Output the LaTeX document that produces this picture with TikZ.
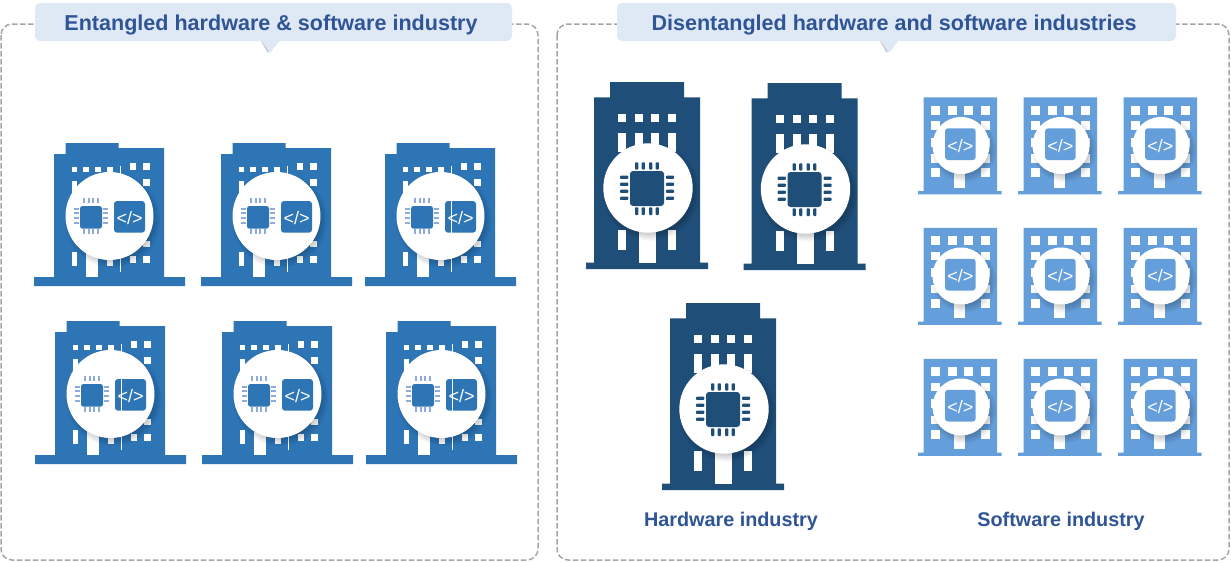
\documentclass[tikz,border=0pt]{standalone}
\usepackage{fontspec}
\setmainfont{Liberation Sans}
\definecolor{entblue}{HTML}{2E75B6}
\definecolor{darkblue}{HTML}{1F4E79}
\definecolor{lightblue}{HTML}{659FDB}
\definecolor{pinblue}{HTML}{8FAADC}
\definecolor{titleblue}{HTML}{2F5597}
\definecolor{titlebg}{HTML}{DEE9F5}
\definecolor{framegray}{HTML}{A6A6A6}
\tikzset{
  frameline/.style={draw=framegray,line width=1.5pt,dash pattern=on 5.5pt off 2.5pt,rounded corners=11pt},
  titlebox/.style={fill=titlebg,rounded corners=5pt},
  titletext/.style={text=titleblue,font=\bfseries\fontsize{21.55}{24}\selectfont,inner sep=0pt},
  codetext/.style={text=white,font=\fontsize{18}{20}\selectfont,inner sep=0pt},
}
\newcommand{\win}[4]{\fill[white] (#1,#2) rectangle (#3,#4);}
\newcommand{\softdisc}[3]{%
  \foreach \k in {0,1,...,7}{
    \fill[black,opacity=0.028] (#1+3,#2+4) circle ({#3+4-\k*1.1});
  }
  \fill[white] (#1,#2) circle (#3);}
% entangled building; #1,#2 shift, #3 name, #4 = 1 line on top
\newcommand{\entbuilding}[4]{%
\begin{scope}[shift={(#1,#2)}]
  \fill[entblue] (54,154) -- (65.7,154) -- (65.7,143) -- (118.7,143) -- (118.7,148) -- (164,148) -- (164,277) -- (185,277) -- (185,286) -- (34,286) -- (34,277) -- (54,277) -- cycle;
  \win{71.7}{166.7}{77.3}{172}\win{83.3}{166.7}{89.3}{172}\win{95.3}{166.7}{101}{172}\win{107.3}{166.7}{112.7}{172}
  \win{130}{163}{136}{170}\win{143}{163}{150}{170}
  \win{71.7}{181}{77.3}{200}\win{143}{179}{150}{186}
  \win{143}{240.7}{150}{247}
  \win{71.7}{251.7}{77.3}{266}\win{86}{240}{98.3}{277}\win{107.3}{255}{112.7}{266}
  \win{130}{255.7}{136}{262.7}\win{143}{255.7}{150}{262.7}
  \draw[white,line width=0.7pt] (120.3,166) -- (120.3,271.6);
  \softdisc{109.5}{216}{44}
  \foreach \a in {84.3,89,93.3,97.7}{
    \fill[pinblue] (\a-1,198.3) rectangle (\a+1,202.7);
    \fill[pinblue] (\a-1,229.2) rectangle (\a+1,233.5);
  }
  \foreach \a in {208.7,213.3,218,222.7}{
    \fill[pinblue] (74.3,\a-1) rectangle (79,\a+1);
    \fill[pinblue] (103.3,\a-1) rectangle (108.3,\a+1);
  }
  \fill[entblue,rounded corners=2.5pt] (80,206) rectangle (102,228.7);
  \fill[entblue,rounded corners=3pt] (114,201) rectangle (145,232.7);
  \node[codetext] (#3) at (129.7,217.6) {</>};
  \ifnum#4=1 \draw[white,line width=0.7pt] (120.3,201) -- (120.3,232.7); \fi
\end{scope}}
% hardware building
\newcommand{\hwbuilding}[3]{%
\begin{scope}[shift={(#1,#2)}]
  \fill[darkblue] (594,97.3) -- (610,97.3) -- (610,82) -- (684,82) -- (684,97.3) -- (700,97.3) -- (700,262.7) -- (708,262.7) -- (708,269) -- (586,269) -- (586,262.7) -- (594,262.7) -- cycle;
  \foreach \a in {618.3,635,651.3,668}{
    \win{\a}{114}{\a+8}{121.7}
    \win{\a}{133.3}{\a+8}{152}
  }
  \win{618.3}{230.3}{626.3}{250}\win{668}{230.3}{676}{250}
  \win{639}{225}{656}{262.7}
  \softdisc{648}{188}{44.7}
  \foreach \a in {636.7,643.3,650.7,657.3}{
    \fill[darkblue,rounded corners=0.8pt] (\a-1.6,162.3) rectangle (\a+1.6,169.5);
    \fill[darkblue,rounded corners=0.8pt] (\a-1.6,207.3) rectangle (\a+1.6,215);
  }
  \foreach \a in {177.3,184.3,191.3,198.3}{
    \fill[darkblue,rounded corners=0.8pt] (620,\a-1.6) rectangle (628.3,\a+1.6);
    \fill[darkblue,rounded corners=0.8pt] (666,\a-1.6) rectangle (674,\a+1.6);
  }
  \fill[darkblue,rounded corners=3pt] (630,171) rectangle (664,206);
  \coordinate (#3) at (648,188);
\end{scope}}
% software building
\newcommand{\swbuilding}[3]{%
\begin{scope}[shift={(#1,#2)}]
  \fill[lightblue] (923.7,97.3) -- (997,97.3) -- (997,191) -- (1001.7,191) -- (1001.7,194.3) -- (918,194.3) -- (918,191) -- (923.7,191) -- cycle;
  \foreach \a in {931,947.5,964.3,980.7}{
    \foreach \b in {105.7,121,137.7,154}{
      \win{\a}{\b}{\a+9}{\b+8.8}
    }
  }
  \win{931}{168.3}{940}{177.3}\win{980.7}{168.3}{990}{177.3}
  \win{954}{165}{965}{187.7}
  \softdisc{961}{145.5}{28.5}
  \fill[lightblue,rounded corners=3pt] (945,128.3) rectangle (975.7,160);
  \node[codetext] (#3) at (960.4,145.6) {</>};
\end{scope}}
\begin{document}
\begin{tikzpicture}[x=1pt,y=-1pt]
\useasboundingbox (0,0) rectangle (1231,562);
\fill[white] (0,0) rectangle (1231,562);
% frames
\draw[frameline] (1,24) rectangle (538,560);
\draw[frameline] (557,24) rectangle (1229,560);
% entangled
\entbuilding{0}{0}{e1}{0}
\entbuilding{167}{0}{e2}{0}
\entbuilding{331}{0}{e3}{1}
\entbuilding{1}{178}{e4}{1}
\entbuilding{168}{178}{e5}{0}
\entbuilding{332}{178}{e6}{1}
% hardware
\hwbuilding{0}{0}{h1}
\hwbuilding{157.5}{1}{h2}
\hwbuilding{76}{221}{h3}
% software
\foreach \c/\i in {0/a,100/b,200/c}{
  \foreach \r/\j in {0/a,130.5/b,261.5/c}{
    \swbuilding{\c}{\r}{s\i\j}
  }
}
% title boxes
\fill[black!40,opacity=.6] (261,41) -- (272,41) -- (268,53) -- cycle;
\fill[titlebg] (261,40) -- (280,40) -- (270,53) -- cycle;
\fill[titlebox] (35,3) rectangle (512,41);
\node[titletext] (t1) at (271,25) {Entangled hardware \& software industry};
\fill[black!40,opacity=.6] (880,41) -- (891,41) -- (887,53) -- cycle;
\fill[titlebg] (880,40) -- (899,40) -- (889,53) -- cycle;
\fill[titlebox] (617,3) rectangle (1176,41);
\node[titletext] (t2) at (894,25) {Disentangled hardware and software industries};
% labels
\node[titletext,font=\bfseries\fontsize{19.8}{22}\selectfont] (l1) at (731,521) {Hardware industry};
\node[titletext,font=\bfseries\fontsize{19.8}{22}\selectfont] (l2) at (1061,521) {Software industry};
\end{tikzpicture}
\end{document}
